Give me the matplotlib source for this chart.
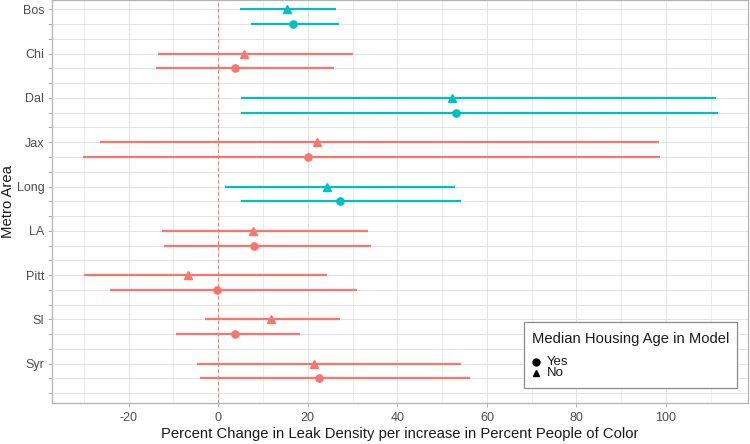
import matplotlib
matplotlib.use("Agg")
import matplotlib.pyplot as plt
from matplotlib.lines import Line2D
from matplotlib.patches import Rectangle
import numpy as np

metros = ["Bos", "Chi", "Dal", "Jax", "Long", "LA", "Pitt", "SI", "Syr"]

# Model without median housing age (triangles)
no_est = [15.3, 5.8, 52.2, 22.0, 24.3, 7.8, -6.7, 11.7, 21.3]
no_lo = [4.8, -13.4, 5.0, -26.4, 1.5, -12.5, -29.9, -3.0, -4.8]
no_hi = [26.4, 30.2, 111.1, 98.5, 52.8, 33.5, 24.2, 27.3, 54.3]

# Model with median housing age (circles)
yes_est = [16.6, 3.7, 53.1, 20.0, 27.3, 8.1, -0.2, 3.7, 22.5]
yes_lo = [7.3, -13.9, 5.1, -30.1, 5.0, -12.1, -24.2, -9.4, -4.1]
yes_hi = [26.9, 25.8, 111.5, 98.6, 54.3, 34.1, 31.1, 18.2, 56.3]

SALMON = "#F8766D"
TEAL = "#00BFC4"

plt.rcParams["font.family"] = ["Liberation Sans", "DejaVu Sans"]

W, H = 750, 444
fig = plt.figure(figsize=(W / 100, H / 100), dpi=100)
left, right, top, bottom = 52, 748, 0.3, 402.7
ax = fig.add_axes([left / W, 1 - bottom / H, (right - left) / W, (bottom - top) / H])

# grid
n_pos = 3 * len(metros)
for p in range(n_pos):
    ax.axhline(p, color="#E3E3E3", lw=0.7, zorder=0)
for xv in range(-30, 120, 10):
    major = xv % 20 == 0
    ax.axvline(xv, color="#E3E3E3", lw=0.7 if major else 0.45, zorder=0)

ax.axvline(0, color=SALMON, lw=0.8, ls=(0, (3, 2.5)), zorder=1)

for i, m in enumerate(metros):
    p_no = 3 * i
    p_yes = 3 * i + 1
    col = TEAL if (no_lo[i] > 0 and yes_lo[i] > 0) else SALMON
    ax.hlines(p_no, no_lo[i], no_hi[i], color=col, lw=1.6, zorder=2)
    ax.hlines(p_yes, yes_lo[i], yes_hi[i], color=col, lw=1.6, zorder=2)
    ax.plot([no_est[i]], [p_no], marker="^", ms=5.8, color=col, ls="none", zorder=3)
    ax.plot([yes_est[i]], [p_yes], marker="o", ms=5.2, color=col, ls="none", zorder=3)

ax.set_xlim(-37.1, 118.3)
ax.set_ylim(26.64, -0.61)

ax.set_xticks([-20, 0, 20, 40, 60, 80, 100])
ax.set_xticklabels(["-20", "0", "20", "40", "60", "80", "100"])
ax.set_yticks(range(n_pos))
ylabels = []
for p in range(n_pos):
    ylabels.append(metros[p // 3] if p % 3 == 0 else "")
ax.set_yticklabels(ylabels)

ax.tick_params(axis="both", colors="#B3B3B3", labelcolor="#4D4D4D", labelsize=9,
               length=3, width=0.7, pad=2.5)
ax.tick_params(axis="x", pad=4)
for s in ax.spines.values():
    s.set_color("#B3B3B3")
    s.set_linewidth(0.9)

ax.set_xlabel("Percent Change in Leak Density per increase in Percent People of Color",
              fontsize=10.7, color="#1A1A1A", labelpad=2)

# legend / y title (drawn in figure pixel coordinates)
def fx(x):
    return x / W

def fy(y):
    return 1 - y / H

fig.text(fx(8.5), fy((top + bottom) / 2), "Metro Area", fontsize=10.7, color="#1A1A1A",
         rotation=90, ha="center", va="center")

fig.patches.append(Rectangle((fx(524), fy(388.3)), fx(737.3) - fx(524), fy(322.3) - fy(388.3),
                             transform=fig.transFigure, facecolor="white",
                             edgecolor="#8C8C8C", lw=0.9, zorder=5))
fig.text(fx(531.7), fy(339), "Median Housing Age in Model", fontsize=10.6, color="#1A1A1A",
         ha="left", va="center", zorder=6)
leg_labels = ["Yes", "No"]
leg_markers = ["o", "^"]
leg_y = [361.7, 373.3]
for lab, mk, yy in zip(leg_labels, leg_markers, leg_y):
    fig.add_artist(Line2D([fx(536)], [fy(yy)], marker=mk, ms=5, color="black",
                          ls="none", transform=fig.transFigure, zorder=6))
    fig.text(fx(547), fy(yy), lab, fontsize=9.5, color="#1A1A1A", ha="left", va="center", zorder=6)

fig.savefig("out.png", dpi=100)
